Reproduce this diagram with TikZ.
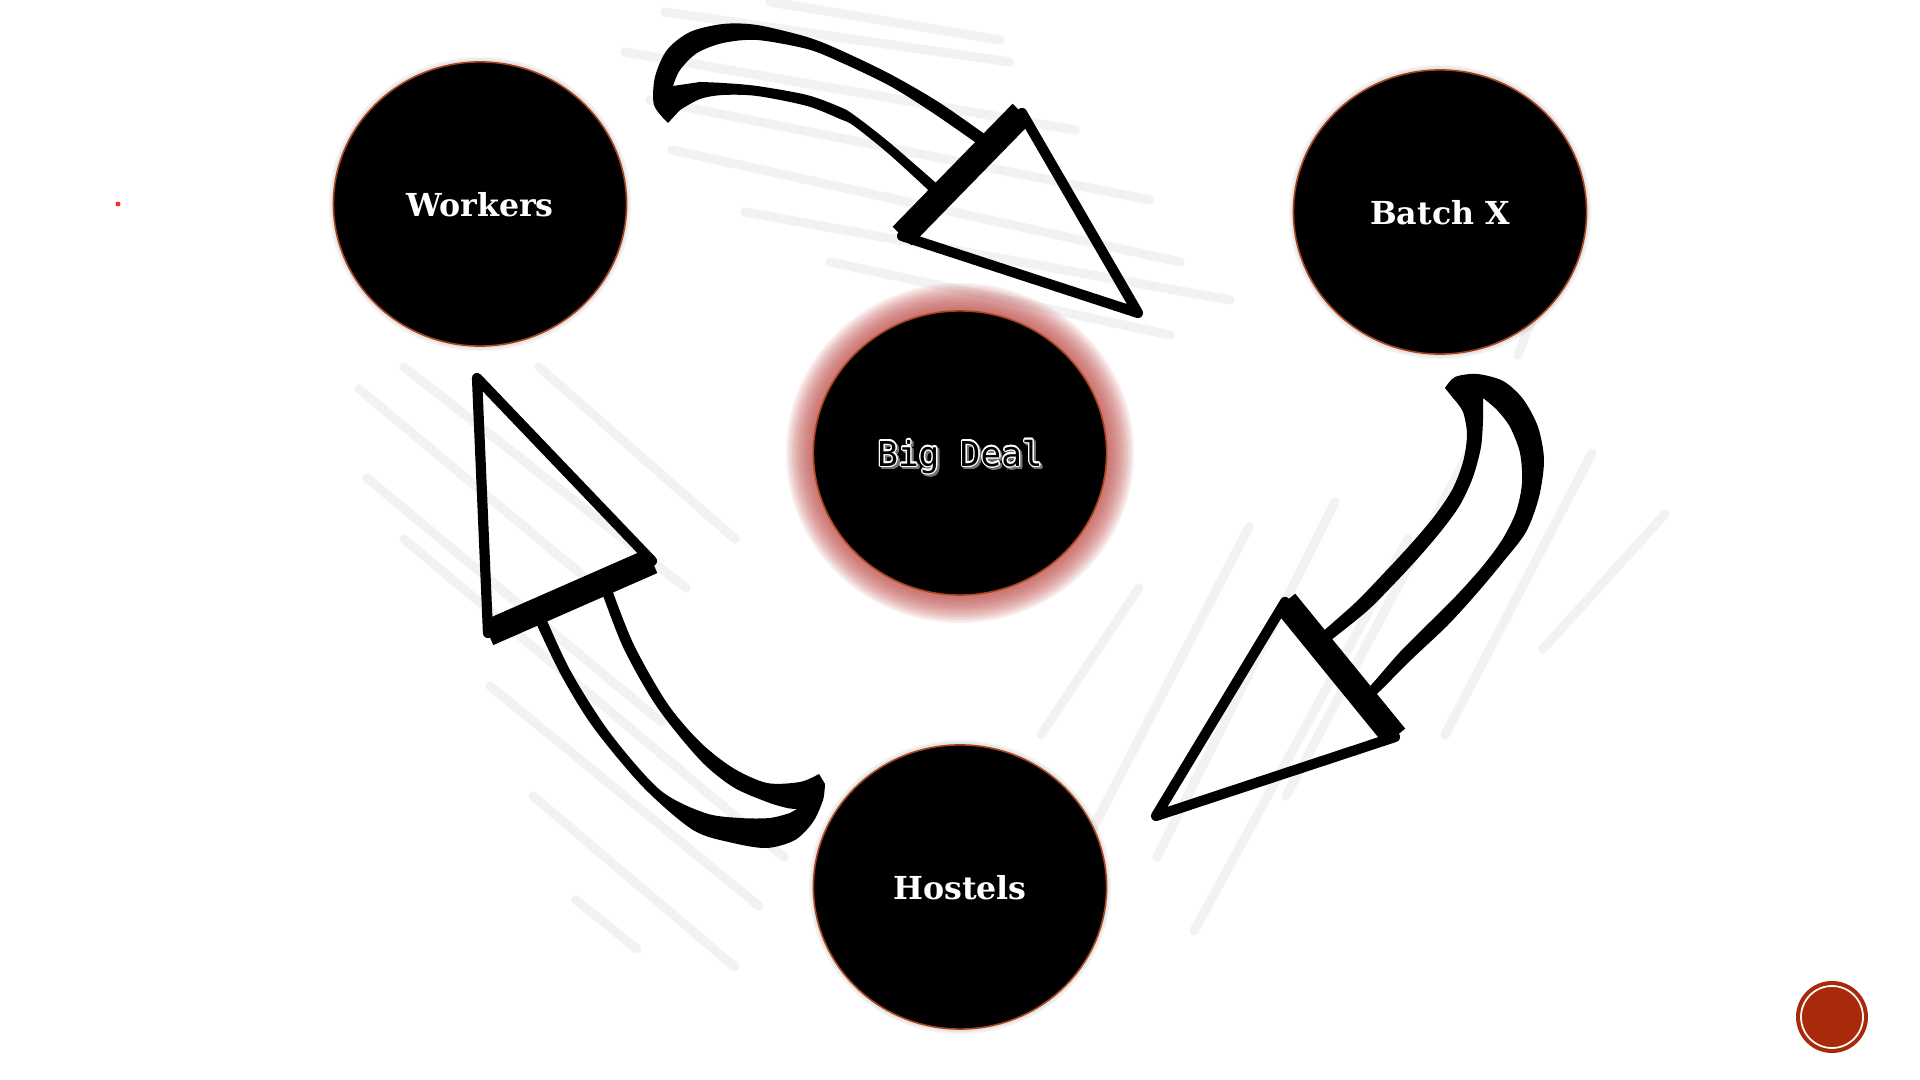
\documentclass[tikz,border=0pt]{standalone}
\usepackage{fontspec}
\usepackage[copies]{contour}
\usetikzlibrary{shapes.geometric, calc}
\newfontfamily\slabfont{DejaVu Serif}
\newfontfamily\dealfont{DejaVu Sans Mono}
\definecolor{rimbrown}{HTML}{A8451C}
\definecolor{glowred}{HTML}{BF4A47}
\definecolor{stripegray}{HTML}{F2F2F2}
\definecolor{buttonred}{HTML}{A82A0B}
\definecolor{dotred}{HTML}{FF2A2A}
\contourlength{0.35pt}
\newcommand\dealtext[1]{\makebox[0pt][l]{\kern0.6pt\raisebox{-0.6pt}{\color{black!55}\contour{black!55}{#1}}}\contour{white}{#1}}

\begin{document}
\begin{tikzpicture}[x=0.01cm, y=-0.01cm,
  bubble/.style={ellipse, fill=black, draw=rimbrown, line width=0.45pt, minimum width=2.93cm, minimum height=2.84cm, inner sep=0pt, text depth=0pt, text=white, font=\slabfont\bfseries\fontsize{9}{11}\selectfont},
  stripe/.style={stripegray, line width=2.6pt, line cap=round},
  headline/.style={line width=2.9pt, line join=round},
  headbase/.style={line width=7.5pt},
  shaft/.style={fill=black, even odd rule}]
\fill[white] (0,0) rectangle (1920,1080);
\useasboundingbox (0,0) rectangle (1920,1080);

\foreach \xa/\ya/\xb/\yb in {665/12/1010/62, 770/2/1000/40, 625/52/1075/130, 650/100/1150/200, 672/150/1180/262, 745/212/1230/300, 830/262/1170/335,
  359/389/612/600, 404/367/686/588, 539/367/735/539, 367/478/661/722, 404/539/784/857, 490/686/759/906, 533/796/735/967, 576/900/637/949,
  1041/735/1139/588, 1078/857/1249/527, 1157/857/1335/502, 1194/931/1408/539, 1286/796/1469/453, 1445/735/1592/453, 1543/649/1665/514, 1518/355/1537/306}
  \draw[stripe] (\xa,\ya) -- (\xb,\yb);

\foreach \r in {174,172,...,148}
  \fill[glowred, opacity=0.09] (960,453) ellipse [x radius=\r, y radius=\r-4];
\foreach \p in {(480,204), (1440,212), (960,887)}
  \foreach \r in {151,149}
    \fill[black, opacity=0.05] \p ellipse [x radius=\r, y radius=\r-4];

\node[bubble] (workers) at (480,204) {Workers};
\node[bubble] (batchx) at (1440,212) {Batch X};
\node[bubble] (hostels) at (960,887) {Hostels};
\node[bubble, text=black, font=\dealfont\fontsize{9.75}{11}\selectfont] (bigdeal) at (960,453) {\dealtext{Big Deal}};

\coordinate (ta) at (1022,113);
\coordinate (tb) at (902,236);
\coordinate (tc) at (1138,313);
\coordinate (t1) at ($(ta)!0.229!(tb)$);
\coordinate (t2) at ($(ta)!0.70!(tb)$);
\coordinate (t3) at ($(ta)!0.30!(tb)$);
\coordinate (t4) at ($(ta)!0.637!(tb)$);
\fill[shaft] plot[smooth] coordinates {(668,123) (654,105) (655,77) (667,50) (690,32) (723,24) (757,25) (807,37) (840,50) (890,74) (940,103) (t1)}
  -- plot[smooth] coordinates {(t2) (890,155) (854,126) (840,119) (807,106) (757,96) (723,95) (700,99) (680,110)} -- cycle
  plot[smooth] coordinates {(673,86) (680,70) (697,53) (723,43) (757,40) (807,49) (840,62) (890,86) (936,115) (t3)}
  -- plot[smooth] coordinates {(t4) (890,143) (854,115) (840,107) (807,95) (757,86) (723,83) (700,82)} -- cycle;
\draw[headline] (ta) -- (tb) -- (tc) -- cycle;
\draw[headbase] (ta) -- (tb);

\coordinate (ra) at (1285,602);
\coordinate (rb) at (1395,737);
\coordinate (rc) at (1156,816);
\coordinate (r1) at ($(ra)!0.745!(rb)$);
\coordinate (r2) at ($(ra)!0.27!(rb)$);
\coordinate (r3) at ($(ra)!0.685!(rb)$);
\coordinate (r4) at ($(ra)!0.335!(rb)$);
\fill[shaft] plot[smooth] coordinates {(1445,388) (1455,377) (1477,374) (1503,381) (1523,399) (1538,427) (1544,460) (1539,497) (1526,532) (1503,562) (1478,592) (1448,625) (1412,659) (1380,691) (r1)}
  -- plot[smooth] coordinates {(r2) (1355,603) (1385,572) (1410,545) (1433,518) (1452,490) (1463,462) (1467,435) (1463,412) (1453,398)} -- cycle
  plot[smooth] coordinates {(1483,398) (1497,410) (1510,427) (1520,453) (1522,483) (1516,512) (1502,540) (1482,567) (1456,596) (1430,622) (1400,652) (1372,684) (r3)}
  -- plot[smooth] coordinates {(r4) (1366,612) (1395,583) (1420,556) (1442,530) (1460,505) (1473,477) (1481,447) (1483,420)} -- cycle;
\draw[headline] (ra) -- (rb) -- (rc) -- cycle;
\draw[headbase] (ra) -- (rb);

\coordinate (la) at (488,633);
\coordinate (lb) at (652,561);
\coordinate (lc) at (477,378);
\coordinate (l1) at ($(la)!0.735!(lb)$);
\coordinate (l2) at ($(la)!0.267!(lb)$);
\coordinate (l3) at ($(la)!0.677!(lb)$);
\coordinate (l4) at ($(la)!0.33!(lb)$);
\fill[shaft] plot[smooth] coordinates {(819,774) (800,782) (767,783) (733,768) (700,742) (667,703) (633,643) (l1)}
  -- plot[smooth] coordinates {(l2) (560,673) (593,727) (643,787) (693,830) (733,843) (767,848) (795,840) (813,822) (823,800) (825,784)} -- cycle
  plot[smooth] coordinates {(797,809) (787,808) (767,802) (733,787) (700,760) (657,707) (623,647) (l3)}
  -- plot[smooth] coordinates {(l4) (570,670) (610,733) (660,790) (705,813) (740,818) (770,818) (790,813)} -- cycle;
\draw[headline] (la) -- (lb) -- (lc) -- cycle;
\draw[headbase] (la) -- (lb);

\fill[buttonred] (1832,1017) circle [radius=36];
\draw[white, line width=0.5pt] (1832,1017) circle [radius=31];
\fill[dotred] (118,204) circle [radius=2.5];
\end{tikzpicture}
\end{document}
